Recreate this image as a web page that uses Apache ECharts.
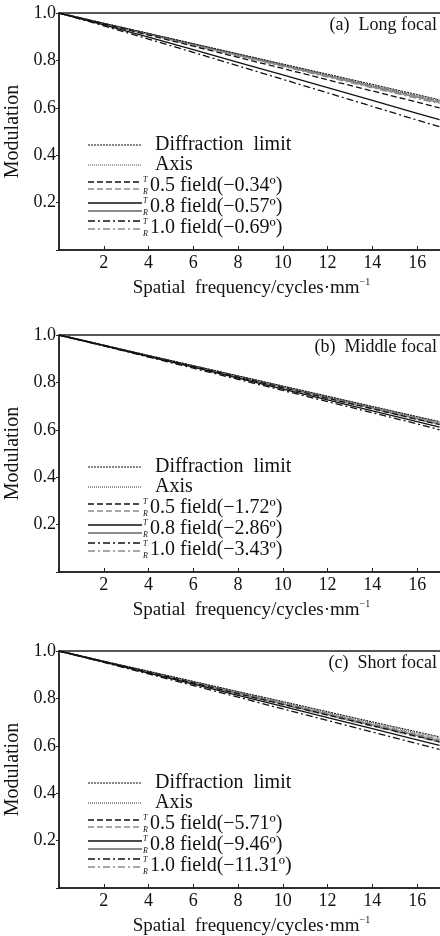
<!DOCTYPE html>
<html>
<head>
<meta charset="utf-8">
<script src="https://cdn.jsdelivr.net/npm/echarts@6/dist/echarts.min.js"></script>
<style>
  html, body { margin: 0; padding: 0; background: #fff; }
  #mtf { width: 440px; height: 936px; }
</style>
</head>
<body>
<div id="mtf"></div>
<script>
// spatial frequency, cycles/mm
var freq = [0, 2, 4, 6, 8, 10, 12, 14, 16, 17]
var xTicks = [2, 4, 6, 8, 10, 12, 14, 16]
var yTicks = [0.2, 0.4, 0.6, 0.8, 1.0]

// (a) long focal
var longDiff = [1.000, 0.957, 0.914, 0.871, 0.828, 0.785, 0.742, 0.699, 0.656, 0.634]
var longAxis = [1.000, 0.956, 0.913, 0.869, 0.826, 0.782, 0.739, 0.695, 0.652, 0.630]
var longT05 = [1.000, 0.954, 0.907, 0.860, 0.813, 0.766, 0.718, 0.671, 0.624, 0.600]
var longS05 = [1.000, 0.956, 0.912, 0.868, 0.824, 0.780, 0.736, 0.692, 0.648, 0.627]
var longT08 = [1.000, 0.950, 0.898, 0.845, 0.792, 0.739, 0.685, 0.631, 0.577, 0.550]
var longS08 = [1.000, 0.955, 0.911, 0.867, 0.822, 0.778, 0.734, 0.689, 0.645, 0.623]
var longT10 = [1.000, 0.946, 0.890, 0.834, 0.777, 0.720, 0.663, 0.606, 0.548, 0.520]
var longS10 = [1.000, 0.955, 0.910, 0.865, 0.820, 0.775, 0.730, 0.685, 0.640, 0.618]

// (b) middle focal
var midDiff = [1.000, 0.957, 0.914, 0.871, 0.828, 0.785, 0.742, 0.699, 0.656, 0.635]
var midAxis = [1.000, 0.957, 0.913, 0.870, 0.827, 0.784, 0.740, 0.697, 0.654, 0.633]
var midT05 = [1.000, 0.956, 0.911, 0.867, 0.822, 0.778, 0.733, 0.689, 0.644, 0.622]
var midS05 = [1.000, 0.956, 0.912, 0.869, 0.825, 0.781, 0.738, 0.694, 0.650, 0.629]
var midT08 = [1.000, 0.955, 0.909, 0.864, 0.818, 0.772, 0.726, 0.680, 0.634, 0.611]
var midS08 = [1.000, 0.956, 0.912, 0.868, 0.824, 0.780, 0.736, 0.692, 0.648, 0.626]
var midT10 = [1.000, 0.954, 0.907, 0.860, 0.813, 0.766, 0.719, 0.672, 0.625, 0.600]
var midS10 = [1.000, 0.956, 0.911, 0.867, 0.822, 0.778, 0.733, 0.689, 0.644, 0.622]

// (c) short focal
var shortDiff = [1.000, 0.957, 0.915, 0.872, 0.829, 0.787, 0.744, 0.701, 0.659, 0.638]
var shortAxis = [1.000, 0.957, 0.913, 0.870, 0.827, 0.784, 0.740, 0.697, 0.654, 0.633]
var shortT05 = [1.000, 0.955, 0.910, 0.865, 0.820, 0.775, 0.730, 0.685, 0.640, 0.617]
var shortS05 = [1.000, 0.956, 0.912, 0.868, 0.824, 0.780, 0.736, 0.692, 0.648, 0.626]
var shortT08 = [1.000, 0.954, 0.907, 0.860, 0.813, 0.766, 0.719, 0.672, 0.625, 0.602]
var shortS08 = [1.000, 0.955, 0.911, 0.866, 0.822, 0.777, 0.733, 0.688, 0.644, 0.621]
var shortT10 = [1.000, 0.952, 0.903, 0.854, 0.805, 0.756, 0.707, 0.658, 0.609, 0.585]
var shortS10 = [1.000, 0.955, 0.910, 0.864, 0.819, 0.774, 0.729, 0.683, 0.638, 0.615]

var panelTitles = ['(a)  Long focal', '(b)  Middle focal', '(c)  Short focal']
var fieldNames = ['0.5 field', '0.8 field', '1.0 field']
var longAngles = ['−0.34', '−0.57', '−0.69']
var midAngles = ['−1.72', '−2.86', '−3.43']
var shortAngles = ['−5.71', '−9.46', '−11.31']

var panels = [
  { title: panelTitles[0], angles: longAngles, curves: [longDiff, longAxis, longT05, longS05, longT08, longS08, longT10, longS10] },
  { title: panelTitles[1], angles: midAngles, curves: [midDiff, midAxis, midT05, midS05, midT08, midS08, midT10, midS10] },
  { title: panelTitles[2], angles: shortAngles, curves: [shortDiff, shortAxis, shortT05, shortS05, shortT08, shortS08, shortT10, shortS10] }
]

var font = '"Liberation Serif", "DejaVu Serif", serif'
var tops = [13, 335, 651]
var gridH = 237
var gray = '#8c8c8c'

// line looks: diffraction, axis, T/S pairs
var styles = [
  { color: '#111', width: 1, type: [2, 1] },
  { color: '#555', width: 1.2, type: [1, 1] },
  { color: '#111', width: 1.3, type: [6, 3] },
  { color: gray, width: 1.6, type: [6, 3] },
  { color: '#111', width: 1.3, type: 'solid' },
  { color: gray, width: 2, type: 'solid' },
  { color: '#111', width: 1.3, type: [7, 3, 2, 3] },
  { color: gray, width: 1.6, type: [7, 3, 2, 3] }
]
var drawOrder = [5, 3, 7, 1, 0, 2, 4, 6]

var grids = [], xAxes = [], yAxes = [], series = [], graphics = []

panels.forEach(function (p, k) {
  grids.push({
    left: 59, right: -4, top: tops[k], height: gridH,
    containLabel: false, outerBoundsMode: 'none',
    show: true, borderColor: '#222', borderWidth: 1.5
  })
  xAxes.push({
    type: 'value', gridIndex: k, min: 0, max: 17.2, interval: 2,
    name: 'Spatial  frequency/cycles·mm{sup|−1}',
    nameLocation: 'middle', nameGap: 27,
    nameTextStyle: {
      fontFamily: font, fontSize: 19, color: '#111',
      rich: { sup: { fontFamily: font, fontSize: 10, color: '#111', padding: [0, 0, 13, 0] } }
    },
    axisLine: { lineStyle: { color: '#222', width: 1.5 } },
    axisTick: { inside: true, length: 4, lineStyle: { color: '#222' } },
    axisLabel: {
      fontFamily: font, fontSize: 18, color: '#111', margin: 4,
      formatter: function (v) { return xTicks.indexOf(v) >= 0 ? String(v) : '' }
    },
    splitLine: { show: false }
  })
  yAxes.push({
    type: 'value', gridIndex: k, min: 0, max: 1, interval: 0.2,
    name: 'Modulation', nameLocation: 'middle', nameGap: 31,
    nameTextStyle: { fontFamily: font, fontSize: 20, color: '#111' },
    axisLine: { show: true, lineStyle: { color: '#222', width: 1.5 } },
    axisTick: { show: true, length: 3, lineStyle: { color: '#222' } },
    axisLabel: {
      fontFamily: font, fontSize: 18, color: '#111', margin: 3,
      formatter: function (v) {
        var t = Math.round(v * 10) / 10
        return yTicks.indexOf(t) >= 0 ? t.toFixed(1) : ''
      }
    },
    splitLine: { show: false }
  })

  drawOrder.forEach(function (i) {
    var st = styles[i]
    series.push({
      type: 'line', xAxisIndex: k, yAxisIndex: k,
      data: freq.map(function (f, j) { return [f, p.curves[i][j]] }),
      showSymbol: false, silent: true, animation: false,
      lineStyle: { color: st.color, width: st.width, type: st.type }
    })
  })

  var dy = tops[k] - 13
  graphics.push({
    type: 'text', right: 3, top: dy + 16,
    style: { text: p.title, font: '18px ' + font, fill: '#111' }
  })

  // legend: samples + labels
  var x1 = 88, x2 = 142
  var rows = [
    { y: 145, lines: [0] },
    { y: 165, lines: [1] },
    { y: 182, lines: [2, 3], gap: 7 },
    { y: 203, lines: [4, 5], gap: 8 },
    { y: 221, lines: [6, 7], gap: 8 }
  ]
  rows.forEach(function (r) {
    r.lines.forEach(function (si, li) {
      var st = styles[si]
      var yy = dy + r.y + li * (r.gap || 0)
      graphics.push({
        type: 'line', silent: true,
        shape: { x1: x1, y1: yy, x2: x2, y2: yy },
        style: { stroke: st.color, lineWidth: st.width, lineDash: st.type === 'solid' ? null : st.type }
      })
    })
  })
  graphics.push({
    type: 'text', x: 155, y: dy + 145,
    style: { text: 'Diffraction  limit', font: '20px ' + font, fill: '#111', verticalAlign: 'middle' }
  })
  graphics.push({
    type: 'text', x: 155, y: dy + 165,
    style: { text: 'Axis', font: '20px ' + font, fill: '#111', verticalAlign: 'middle' }
  })
  var fy = [186, 207, 228]
  fieldNames.forEach(function (name, fi) {
    var yy = dy + fy[fi]
    graphics.push({
      type: 'text', x: 143, y: yy - 6,
      style: { text: 'T', font: 'italic 8px ' + font, fill: '#111', verticalAlign: 'middle' }
    })
    graphics.push({
      type: 'text', x: 143, y: yy + 6,
      style: { text: 'R', font: 'italic 8px ' + font, fill: '#111', verticalAlign: 'middle' }
    })
    graphics.push({
      type: 'text', x: 150, y: yy,
      style: { text: name + '(' + p.angles[fi] + 'º)', font: '20px ' + font, fill: '#111', verticalAlign: 'middle' }
    })
  })
})

var chart = echarts.init(document.getElementById('mtf'))
chart.setOption({
  animation: false,
  backgroundColor: '#fff',
  grid: grids,
  xAxis: xAxes,
  yAxis: yAxes,
  series: series,
  graphic: graphics
})
</script>
</body>
</html>
